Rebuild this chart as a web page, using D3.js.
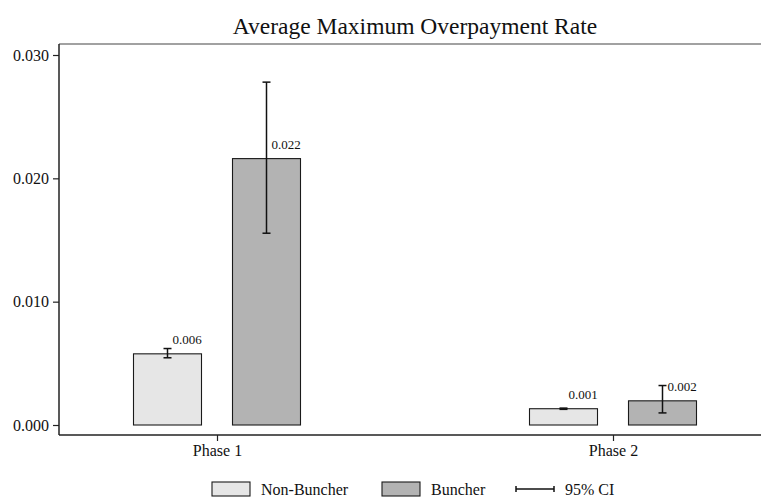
<!DOCTYPE html>
<html>
<head>
<meta charset="utf-8">
<script src="https://cdn.jsdelivr.net/npm/d3@7"></script>
<style>
  html, body { margin: 0; padding: 0; background: #fff; }
  svg { display: block; font-family: "Liberation Serif", "Times New Roman", serif; }
  svg text { font-family: "Liberation Serif", "Times New Roman", serif; }
</style>
</head>
<body>
<svg id="chart" width="761" height="501"></svg>
<script>
// Data
const phases = ["Phase 1", "Phase 2"];
const groups = ["Non-Buncher", "Buncher"];
const meanNonBuncher = [0.00577, 0.00132];
const meanBuncher = [0.0216, 0.00196];
const ciLowNonBuncher = [0.00545, 0.00127];
const ciHighNonBuncher = [0.00620, 0.00137];
const ciLowBuncher = [0.01555, 0.00098];
const ciHighBuncher = [0.0278, 0.00320];
const valueLabelsNonBuncher = ["0.006", "0.001"];
const valueLabelsBuncher = ["0.022", "0.002"];
const yTicks = [0, 0.01, 0.02, 0.03];
const title = "Average Maximum Overpayment Rate";

const fills = { "Non-Buncher": "#e6e6e6", "Buncher": "#b3b3b3" };

const rows = [];
phases.forEach((p, i) => {
  rows.push({ phase: p, group: "Non-Buncher", v: meanNonBuncher[i], lo: ciLowNonBuncher[i], hi: ciHighNonBuncher[i], label: valueLabelsNonBuncher[i] });
  rows.push({ phase: p, group: "Buncher", v: meanBuncher[i], lo: ciLowBuncher[i], hi: ciHighBuncher[i], label: valueLabelsBuncher[i] });
});

const svg = d3.select("#chart");
const plot = { left: 59, right: 761, top: 44, axisY: 435 };

const y = d3.scaleLinear().domain([0, 0.03]).range([425, 55]);
const x0 = d3.scalePoint().domain(phases).range([217, 613]);
const x1 = d3.scalePoint().domain(groups).range([-49.5, 49.5]);
const barW = 68;

// Title
svg.append("text")
  .attr("x", 415).attr("y", 34)
  .attr("text-anchor", "middle")
  .attr("font-size", 23.5)
  .attr("fill", "#111")
  .text(title);

// Plot frame: top rule, left axis, bottom axis
svg.append("line")
  .attr("x1", plot.left).attr("x2", plot.right)
  .attr("y1", plot.top).attr("y2", plot.top)
  .attr("stroke", "#444").attr("stroke-width", 1.2);

// Y axis
const yAxis = d3.axisLeft(y).tickValues(yTicks).tickFormat(d3.format(".3f")).tickSize(6).tickPadding(4);
const gy = svg.append("g").attr("transform", `translate(${plot.left},0)`).call(yAxis)
  .attr("font-family", null).attr("font-size", 16);
gy.select(".domain").remove();
gy.selectAll(".tick line").attr("stroke", "#222").attr("stroke-width", 1.2);
gy.selectAll(".tick text").attr("fill", "#111");
svg.append("line")
  .attr("x1", plot.left).attr("x2", plot.left)
  .attr("y1", plot.top).attr("y2", plot.axisY)
  .attr("stroke", "#222").attr("stroke-width", 1.5);

// X axis
const xAxis = d3.axisBottom(x0).tickSize(6).tickPadding(4);
const gx = svg.append("g").attr("transform", `translate(0,${plot.axisY})`).call(xAxis)
  .attr("font-family", null).attr("font-size", 16);
gx.select(".domain").remove();
gx.selectAll(".tick line").attr("stroke", "#222").attr("stroke-width", 1.2);
gx.selectAll(".tick text").attr("fill", "#111");
svg.append("line")
  .attr("x1", plot.left).attr("x2", plot.right)
  .attr("y1", plot.axisY).attr("y2", plot.axisY)
  .attr("stroke", "#222").attr("stroke-width", 1.5);

// Bars
const cx = d => x0(d.phase) + x1(d.group);
svg.append("g").selectAll("rect").data(rows).join("rect")
  .attr("x", d => cx(d) - barW / 2)
  .attr("width", barW)
  .attr("y", d => y(d.v))
  .attr("height", d => y(0) - y(d.v))
  .attr("fill", d => fills[d.group])
  .attr("stroke", "#1a1a1a")
  .attr("stroke-width", 1.1);

// Confidence intervals
const ci = svg.append("g").attr("stroke", "#111").attr("stroke-width", 1.5);
rows.forEach(d => {
  const c = cx(d);
  ci.append("line").attr("x1", c).attr("x2", c).attr("y1", y(d.hi)).attr("y2", y(d.lo));
  ci.append("line").attr("x1", c - 4).attr("x2", c + 4).attr("y1", y(d.hi)).attr("y2", y(d.hi));
  ci.append("line").attr("x1", c - 4).attr("x2", c + 4).attr("y1", y(d.lo)).attr("y2", y(d.lo));
});

// Value labels
svg.append("g").selectAll("text").data(rows).join("text")
  .attr("x", d => cx(d) + 5)
  .attr("y", d => y(d.v) - 10)
  .attr("font-size", 13)
  .attr("fill", "#111")
  .text(d => d.label);

// Legend
const lg = svg.append("g").attr("font-size", 16).attr("fill", "#111");
const legendItems = [
  { type: "box", key: "Non-Buncher", x: 212 },
  { type: "box", key: "Buncher", x: 382 },
  { type: "ci", key: "95% CI", x: 516 }
];
legendItems.forEach(it => {
  if (it.type === "box") {
    lg.append("rect").attr("x", it.x).attr("y", 482).attr("width", 38).attr("height", 14)
      .attr("fill", fills[it.key]).attr("stroke", "#1a1a1a").attr("stroke-width", 1.1);
  } else {
    const g = lg.append("g").attr("stroke", "#111").attr("stroke-width", 1.5);
    g.append("line").attr("x1", it.x).attr("x2", it.x + 38).attr("y1", 489).attr("y2", 489);
    g.append("line").attr("x1", it.x).attr("x2", it.x).attr("y1", 486).attr("y2", 492);
    g.append("line").attr("x1", it.x + 38).attr("x2", it.x + 38).attr("y1", 486).attr("y2", 492);
  }
  lg.append("text").attr("x", it.x + 49).attr("y", 495).text(it.key);
});
</script>
</body>
</html>
